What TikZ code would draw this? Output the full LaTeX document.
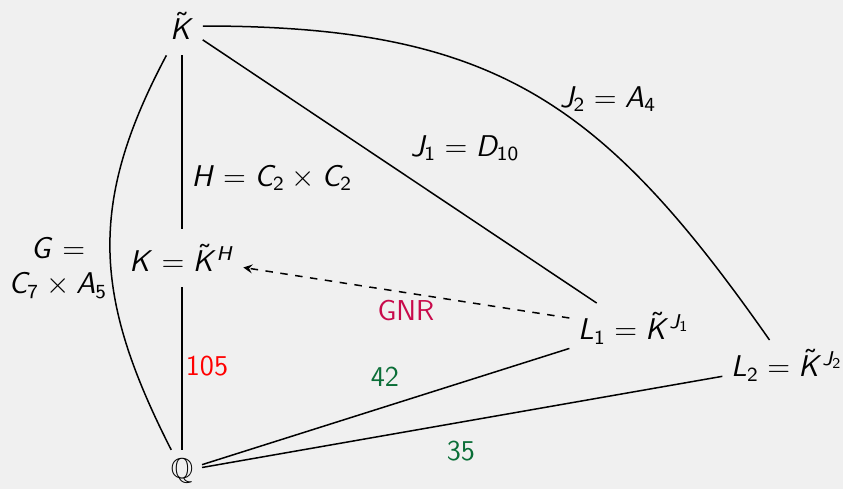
\documentclass[tikz,border=0pt]{standalone}
\usepackage{amsmath,amssymb}
\SetSymbolFont{operators}{normal}{OT1}{cmss}{m}{n}
\SetSymbolFont{letters}{normal}{OT1}{cmss}{m}{sl}
\definecolor{bggray}{RGB}{240,240,240}
\definecolor{gnrred}{RGB}{200,10,75}
\definecolor{deggreen}{RGB}{10,110,55}

\begin{document}
\begin{tikzpicture}[x=0.4pt,y=0.4pt,
    every node/.style={font=\fontsize{11.5}{14}\selectfont\sffamily},
    link/.style={line width=0.6pt}]
    % background and frame of the picture
    \fill[bggray] (0,0) rectangle (843,489);
    \useasboundingbox (0,0) rectangle (843,489);

    % fields
    \node[inner ysep=6pt] (Kt) at (182,463) {$\tilde K$};
    \node[inner ysep=6pt] (K)  at (182,231) {$K = \tilde K^H$};
    \node (Q)  at (182,18)  {$\mathbb{Q}$};
    \node (L1) at (634,161) {$L_1 = \tilde K^{J_1}$};
    \node (L2) at (787,124) {$L_2 = \tilde K^{J_2}$};

    % groups and degrees
    \node (H)  at (272,311) {$H = C_2 \times C_2$};
    \node (J1) at (465,341) {$J_1 = D_{10}$};
    \node (J2) at (608,390) {$J_2 = A_4$};
    \node[align=center] (G) at (58,221) {$G =$\\$C_7 \times A_5$};
    \node[text=red] (d105) at (207,123) {105};
    \node[text=deggreen] (d42) at (385,112) {42};
    \node[text=deggreen] (d35) at (461,38) {35};
    \node[text=gnrred] (gnr) at (406,178) {GNR};

    \draw[link] (Kt) -- (K);
    \draw[link] (K) -- (Q);
    \draw[link] (Kt) -- (L1);
    \draw[link] (L1) -- (Q);
    \draw[link] (L2) -- (Q);
    \draw[link] (Kt) to[out=0,in=125,looseness=1.15] (L2);
    \draw[link] (Kt) to[out=242,in=117,looseness=1.1] (Q);
    \draw[link,dashed,-stealth] (L1) -- (K);
\end{tikzpicture}
\end{document}
